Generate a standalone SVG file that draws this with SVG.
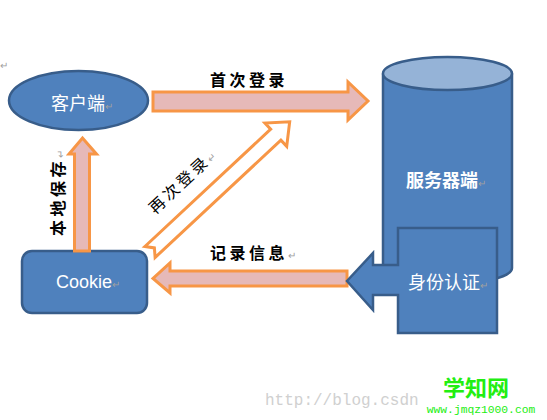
<svg xmlns="http://www.w3.org/2000/svg" width="547" height="420" viewBox="0 0 547 420">
<defs>
<style>
.blue{fill:#4f81bd;stroke:#385d8a;stroke-width:2.5}
.arr{fill:#e6b9b8;stroke:#f79646;stroke-width:3;stroke-linejoin:miter}
.arrw{fill:#ffffff;stroke:#f79646;stroke-width:3;stroke-linejoin:miter}
.wt{fill:#ffffff;font-family:"Noto Sans CJK SC","Liberation Sans",sans-serif;font-size:18px;text-anchor:middle}
.lb{fill:#000000;font-family:"Noto Sans CJK SC",sans-serif;font-size:16px;font-weight:bold;letter-spacing:3.5px}
.rm{fill:#a0a0a0;font-size:10px;font-weight:normal;letter-spacing:0}
</style>
</defs>
<rect width="547" height="420" fill="#ffffff"/>
<text x="0" y="69" class="rm" font-family="Liberation Sans,sans-serif">↵</text>

<g id="server">
<path class="blue" d="M383,73.5 V268 A64.5,16 0 0 0 512,268 V73.5"/>
<ellipse cx="447.5" cy="73.5" rx="64.5" ry="16.5" fill="#95b3d7" stroke="#385d8a" stroke-width="2.5"/>
<text class="wt" x="446" y="187" font-weight="bold">服务器端<tspan class="rm">↵</tspan></text>
</g>

<g id="client">
<ellipse class="blue" cx="78.5" cy="100.5" rx="69.5" ry="29.5"/>
<text class="wt" x="82" y="110">客户端<tspan class="rm">↵</tspan></text>
</g>

<g id="cookie">
<rect class="blue" x="22" y="251" width="125" height="62" rx="10"/>
<text class="wt" x="88" y="288" font-size="16.5" style="font-family:'Liberation Sans',sans-serif">Cookie<tspan class="rm">↵</tspan></text>
</g>

<g id="connectors">
<g id="first-login">
<path class="arr" d="M153,92 H348 V82 L368,101 L348,120 V111 H153 Z"/>
<text class="lb" x="210" y="86">首次登录</text>
</g>
<g id="local-save">
<path class="arr" d="M74.5,251 V154 H69 L82.5,138 L96.5,154 H89.5 V251 Z"/>
<text class="lb" transform="translate(64,236) rotate(-90)">本地保存<tspan class="rm">↵</tspan></text>
</g>
<g id="relogin">
<path class="arrw" transform="translate(150,252) rotate(-43)" d="M0,-7.5 H172 V-16 L191,0 L172,16 V7.5 H0 L6,0 Z"/>
<text transform="translate(186,186) rotate(-43)" text-anchor="middle" font-family="'Noto Sans CJK SC',sans-serif" font-size="16" letter-spacing="3" fill="#000">再次登录<tspan class="rm">↵</tspan></text>
</g>
<g id="record-info">
<path class="arr" d="M347,271 H170 V263 L153,278.5 L170,293 V286 H347 Z"/>
<text class="lb" x="210" y="259">记录信息<tspan class="rm">↵</tspan></text>
</g>
</g>

<g id="auth">
<path class="blue" d="M398,228 H497 V333 H398 V295 H373 V310 L347,281 L373,253 V265 H398 Z"/>
<text class="wt" x="448" y="289">身份认证<tspan class="rm">↵</tspan></text>
</g>

<g id="watermark">
<text x="265" y="405" font-family="'Liberation Mono',monospace" font-size="16" fill="#d0d0d0">http://blog.csdn</text>
<rect x="418" y="370" width="129" height="50" fill="#ffffff"/>
<text x="476" y="396" text-anchor="middle" font-family="'Noto Sans CJK SC',sans-serif" font-size="22" font-weight="bold" fill="#22ee11">学知网</text>
<text x="481" y="413" text-anchor="middle" font-family="'Liberation Mono',monospace" font-size="11.3" fill="#22ee11">www.jmqz1000.com</text>
</g>
</svg>
